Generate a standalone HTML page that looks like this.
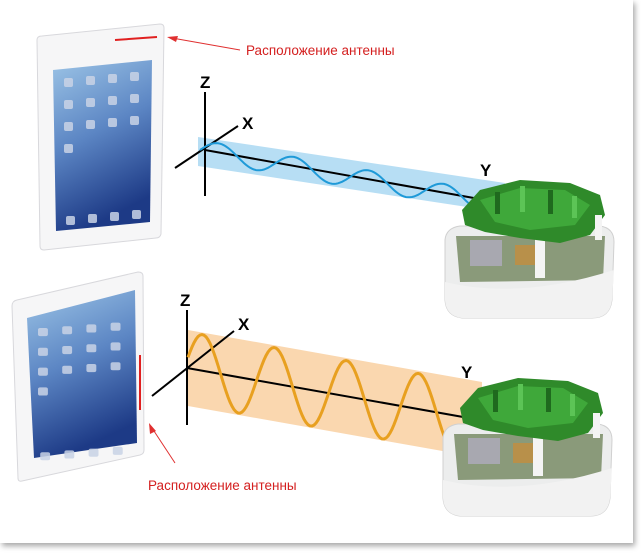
<!DOCTYPE html>
<html><head><meta charset="utf-8"><style>
html,body{margin:0;padding:0;background:#fff;width:641px;height:553px;overflow:hidden}
svg{display:block}
</style></head><body>
<svg id="s" width="641" height="553" viewBox="0 0 641 553" xmlns="http://www.w3.org/2000/svg">
<defs>
<linearGradient id="scr" x1="0" y1="0" x2="0.3" y2="1"><stop offset="0" stop-color="#9cc4e6"/><stop offset="0.5" stop-color="#5c86c4"/><stop offset="1" stop-color="#1d3a86"/></linearGradient>
<filter id="sh" x="-5%" y="-5%" width="110%" height="110%"><feDropShadow dx="2" dy="3" stdDeviation="3" flood-color="#000" flood-opacity="0.35"/></filter>
<g id="robot">
<path d="M445,240 Q446,228 460,226 L600,226 Q614,228 614,242 L612,300 Q610,318 592,318 L462,318 Q446,316 445,300 Z" fill="#eceded" stroke="#d0d0d0"/>
<path d="M456,236 L605,236 L603,280 L460,282 Z" fill="#8a9a7a"/>
<rect x="470" y="240" width="32" height="26" fill="#a8a8b0"/>
<rect x="515" y="245" width="30" height="20" fill="#b8904a"/>
<rect x="535" y="238" width="10" height="40" fill="#f4f4f4"/>
<path d="M445,282 Q520,300 614,270 L612,300 Q610,318 592,318 L462,318 Q446,316 445,300 Z" fill="#f2f2f2"/>
<path d="M462,210 L480,190 L520,180 L570,183 L600,195 L605,215 L590,235 L560,243 L520,238 L485,232 L465,225 Z" fill="#2f8a2a"/>
<path d="M480,200 L520,188 L565,190 L590,205 L575,225 L530,230 L495,222 Z" fill="#3fa83a"/>
<rect x="495" y="192" width="5" height="22" fill="#1f6a1e"/><rect x="520" y="186" width="5" height="26" fill="#5cc456"/>
<rect x="548" y="190" width="5" height="24" fill="#1f6a1e"/><rect x="572" y="196" width="5" height="22" fill="#5cc456"/>
<rect x="595" y="215" width="7" height="25" fill="#f4f4f4"/>
</g>
<g id="icons" fill="#c9d3e6" opacity="0.85">
<rect x="0" y="0" width="9" height="9" rx="2"/><rect x="22" y="-2" width="9" height="9" rx="2"/><rect x="44" y="-4" width="9" height="9" rx="2"/><rect x="66" y="-6" width="9" height="9" rx="2"/>
<rect x="0" y="22" width="9" height="9" rx="2"/><rect x="22" y="20" width="9" height="9" rx="2"/><rect x="44" y="18" width="9" height="9" rx="2"/><rect x="66" y="16" width="9" height="9" rx="2"/>
<rect x="0" y="44" width="9" height="9" rx="2"/><rect x="22" y="42" width="9" height="9" rx="2"/><rect x="44" y="40" width="9" height="9" rx="2"/><rect x="66" y="38" width="9" height="9" rx="2"/>
<rect x="0" y="66" width="9" height="9" rx="2"/>
<rect x="2" y="138" width="9" height="9" rx="2"/><rect x="24" y="136" width="9" height="9" rx="2"/><rect x="46" y="134" width="9" height="9" rx="2"/><rect x="68" y="132" width="9" height="9" rx="2"/>
</g>
</defs>
<rect x="0" y="0" width="633" height="543" fill="#fff" filter="url(#sh)"/>

<!-- top ipad -->
<path d="M37,40 Q37,36 42,36 L160,24 Q164,24 164,28 L161,234 Q160,238 156,238 L44,250 Q40,250 40,246 Z" fill="#f6f6f7" stroke="#d8d8dc"/>
<path d="M53,70 L152,60 L150,222 L56,231 Z" fill="url(#scr)"/>
<use href="#icons" transform="translate(64,78)"/>
<line x1="115" y1="40" x2="157" y2="37" stroke="#e02020" stroke-width="2"/>
<line x1="240" y1="50" x2="172" y2="38" stroke="#e03030" stroke-width="1"/>
<path d="M167,37 L178,36 L176,42 Z" fill="#e03030"/>
<text x="246" y="55" font-family="Liberation Sans, sans-serif" font-size="13.5" fill="#d42020">Расположение антенны</text>

<!-- top axes -->
<path d="M198,137 L505,183 L500,212 L198,166 Z" fill="#aad8f2" opacity="0.85"/>
<line x1="205" y1="92" x2="205" y2="196" stroke="#000" stroke-width="2"/>
<line x1="175" y1="168" x2="238" y2="126" stroke="#000" stroke-width="2"/>
<line x1="205" y1="150" x2="485" y2="200" stroke="#000" stroke-width="2"/>
<path id="w1" fill="none" stroke="#1f9ad8" stroke-width="2"/>
<g font-family="Liberation Sans, sans-serif" font-weight="bold" font-size="17" fill="#000">
<text x="200" y="88">Z</text><text x="242" y="129">X</text><text x="480" y="176">Y</text>
<text x="180" y="306">Z</text><text x="238" y="330">X</text><text x="461" y="378">Y</text>
</g>
<use href="#robot"/>

<!-- bottom ipad -->
<path d="M12,306 Q12,301 17,300 L138,272 Q143,272 143,276 L144,450 Q144,454 140,455 L22,481 Q18,482 18,478 Z" fill="#f6f6f7" stroke="#d8d8dc"/>
<path d="M27,318 L135,290 L137,443 L34,458 Z" fill="url(#scr)"/>
<use href="#icons" transform="translate(38,328) scale(1.1,0.9)"/>
<line x1="140" y1="355" x2="140" y2="410" stroke="#e02020" stroke-width="2"/>
<line x1="175" y1="463" x2="152" y2="428" stroke="#e03030" stroke-width="1"/>
<path d="M149,423 L156,431 L150,434 Z" fill="#e03030"/>
<text x="148" y="490" font-family="Liberation Sans, sans-serif" font-size="13.5" fill="#d42020">Расположение антенны</text>

<!-- bottom axes -->
<path d="M188,330 L482,382 L482,458 L188,406 Z" fill="#f9d3a6" opacity="0.9"/>
<line x1="187" y1="310" x2="187" y2="425" stroke="#000" stroke-width="2"/>
<line x1="152" y1="396" x2="234" y2="331" stroke="#000" stroke-width="2"/>
<line x1="187" y1="368" x2="480" y2="420" stroke="#000" stroke-width="2"/>
<path id="w2" fill="none" stroke="#e8a020" stroke-width="3"/>
<use href="#robot" transform="translate(-2,198)"/>
</svg>
<script>
function wave(x0,y0,x1,slope,amp,per,ph){var d="";for(var x=x0;x<=x1;x+=2){var y=y0+(x-x0)*slope-amp*Math.sin((x-x0)/per*2*Math.PI+ph);d+=(d?"L":"M")+x+","+y.toFixed(1);}return d;}
document.getElementById("w1").setAttribute("d",wave(200,150,480,0.18,10,75,0));
document.getElementById("w2").setAttribute("d",wave(188,368,480,0.18,36,72,0.3));
</script>
</body></html>
